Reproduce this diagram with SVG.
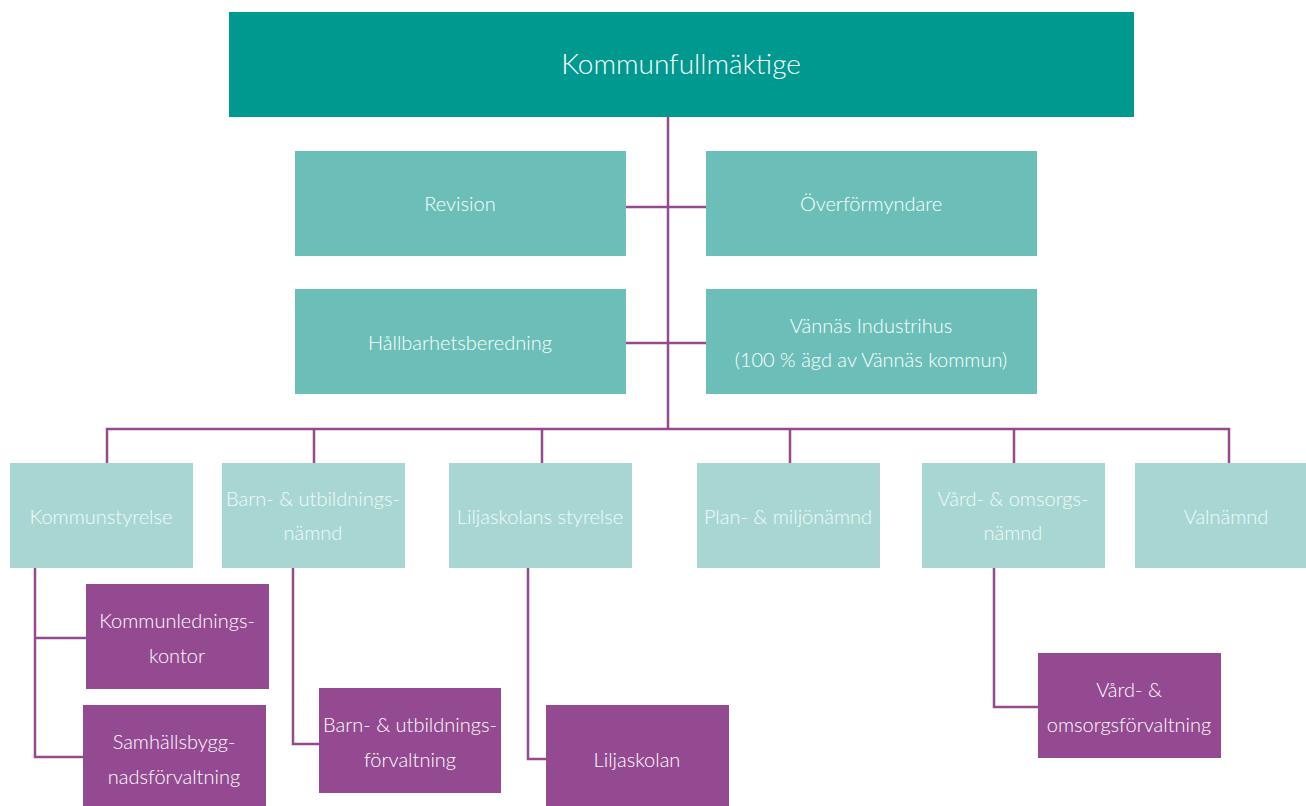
<svg xmlns="http://www.w3.org/2000/svg" width="1306" height="806" viewBox="0 0 1306 806">
<style>
.top{fill:#009990}
.mid{fill:#6BBFB8}
.low{fill:#A8D7D3}
.pur{fill:#944A91}
text{font-family:Lato,"Liberation Sans",sans-serif;font-weight:300;font-size:20px;fill:#ffffff;text-anchor:middle}
.lt{fill:#F2FAF9}
.title{font-size:28px}
.conn{stroke:#944A91;stroke-width:2.5;fill:none}
</style>
<rect width="1306" height="806" fill="#ffffff"/>
<g id="connectors">
<path class="conn" d="M668 117V429M626 207H706M626 343H706"/>
<path class="conn" d="M107 463V429H1229V463M314 429V463M542 429V463M790 429V463M1014 429V463"/>
<path class="conn" d="M35 568V757H83M35 638H86"/>
<path class="conn" d="M293 568V744H319"/>
<path class="conn" d="M528 568V759H546"/>
<path class="conn" d="M994 568V707H1038"/>
</g>
<g id="kommunfullmaktige"><rect class="top" x="229" y="12" width="905" height="105"/><text class="title" x="681" y="74">Kommunfullmäktige</text></g>
<g id="revision"><rect class="mid" x="295" y="151" width="331" height="105"/><text x="460" y="211">Revision</text></g>
<g id="overformyndare"><rect class="mid" x="706" y="151" width="331" height="105"/><text x="871" y="211">Överförmyndare</text></g>
<g id="hallbarhetsberedning"><rect class="mid" x="295" y="289" width="331" height="105"/><text x="460" y="350">Hållbarhetsberedning</text></g>
<g id="vannas-industrihus"><rect class="mid" x="706" y="289" width="331" height="105"/><text x="871" y="333">Vännäs Industrihus</text><text x="871" y="367">(100 % ägd av Vännäs kommun)</text></g>
<g id="kommunstyrelse"><rect class="low" x="10" y="463" width="183" height="105"/><text class="lt" x="101" y="524">Kommunstyrelse</text></g>
<g id="barn-namnd"><rect class="low" x="222" y="463" width="183" height="105"/><text class="lt" x="313" y="506">Barn- &amp; utbildnings-</text><text class="lt" x="313" y="540">nämnd</text></g>
<g id="liljaskolans-styrelse"><rect class="low" x="449" y="463" width="183" height="105"/><text class="lt" x="540" y="524">Liljaskolans styrelse</text></g>
<g id="plan-miljonamnd"><rect class="low" x="697" y="463" width="183" height="105"/><text class="lt" x="788" y="524">Plan- &amp; miljönämnd</text></g>
<g id="vard-namnd"><rect class="low" x="922" y="463" width="183" height="105"/><text class="lt" x="1013" y="506">Vård- &amp; omsorgs-</text><text class="lt" x="1013" y="540">nämnd</text></g>
<g id="valnamnd"><rect class="low" x="1135" y="463" width="171" height="105"/><text class="lt" x="1226" y="524">Valnämnd</text></g>
<g id="kommunledningskontor"><rect class="pur" x="86" y="584" width="183" height="105"/><text x="177" y="628">Kommunlednings-</text><text x="177" y="663">kontor</text></g>
<g id="samhallsbyggnadsforvaltning"><rect class="pur" x="83" y="705" width="183" height="101"/><text x="174" y="749">Samhällsbygg-</text><text x="174" y="784">nadsförvaltning</text></g>
<g id="barn-forvaltning"><rect class="pur" x="319" y="688" width="182" height="105"/><text x="410" y="732">Barn- &amp; utbildnings-</text><text x="410" y="767">förvaltning</text></g>
<g id="liljaskolan"><rect class="pur" x="546" y="705" width="183" height="101"/><text x="637" y="767">Liljaskolan</text></g>
<g id="vard-forvaltning"><rect class="pur" x="1038" y="653" width="183" height="105"/><text x="1129" y="697">Vård- &amp;</text><text x="1129" y="732">omsorgsförvaltning</text></g>
</svg>
